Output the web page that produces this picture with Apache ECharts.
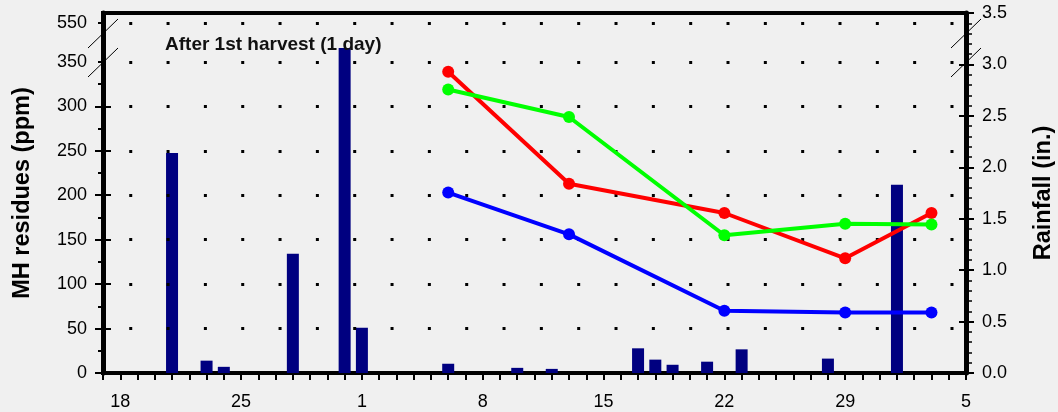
<!DOCTYPE html>
<html>
<head>
<meta charset="utf-8">
<script src="https://cdn.jsdelivr.net/npm/echarts@6/dist/echarts.min.js"></script>
<style>
  html, body { margin: 0; padding: 0; background: #f0f0f0; }
  #chart { width: 1058px; height: 412px; }
</style>
</head>
<body>
<div id="chart"></div>
<script>
// x axis is a running day number, labels are day of month
const xTickValues = [18, 25, 32, 39, 46, 53, 60, 67]
const xTickLabels = ['18', '25', '1', '8', '15', '22', '29', '5']

// rainfall bars (in.)
const rainDays = [21, 23, 24, 28, 31, 32, 37, 41, 43, 48, 49, 50, 52, 54, 59, 63]
const rainInches = [2.14, 0.12, 0.06, 1.16, 3.16, 0.44, 0.09, 0.05, 0.04, 0.24, 0.13, 0.08, 0.11, 0.23, 0.14, 1.83]

// MH residues (ppm)
const sampleDays = [37, 44, 53, 60, 65]
const redResidues = [339, 213, 180, 129, 180]
const greenResidues = [319, 288, 155, 168, 167]
const blueResidues = [203, 156, 70, 68, 68]

// left axis has a break: 550 sits just above 350
const leftTickValues = [0, 50, 100, 150, 200, 250, 300, 350, 394]
const leftTickLabels = ['0', '50', '100', '150', '200', '250', '300', '350', '550']
const leftMinorTicks = [25, 75, 125, 175, 225, 275, 325, 350, 394]

const font = "'Liberation Sans', Arial, sans-serif"

const pairs = (xs, ys) => xs.map((x, i) => [x, ys[i]])

const leftBase = {
  type: 'value', position: 'left', min: 0, max: 405,
  splitLine: { show: false }
}

const lineSeries = (name, color, values) => ({
  name: name,
  type: 'line',
  yAxisIndex: 0,
  data: pairs(sampleDays, values),
  symbol: 'circle',
  symbolSize: 12,
  lineStyle: { color: color, width: 4 },
  itemStyle: { color: color },
  z: 5
})

const chart = echarts.init(document.getElementById('chart'))
chart.setOption({
  backgroundColor: '#f0f0f0',
  animation: false,
  textStyle: { fontFamily: font },
  grid: {
    left: 103, right: 92, top: 13, bottom: 39,
    outerBoundsMode: 'none', containLabel: false,
    show: true, borderColor: '#000', borderWidth: 4, backgroundColor: 'transparent'
  },
  xAxis: {
    type: 'value', min: 17, max: 67, interval: 1,
    axisLine: { lineStyle: { color: '#000', width: 4 } },
    axisTick: { length: 7, lineStyle: { color: '#000', width: 2 } },
    axisLabel: {
      customValues: xTickValues,
      formatter: v => xTickLabels[xTickValues.indexOf(v)],
      color: '#000', fontSize: 18, margin: 20, fontFamily: font
    },
    splitLine: { show: false }
  },
  yAxis: [
    Object.assign({}, leftBase, {
      name: 'MH residues (ppm)',
      nameLocation: 'middle', nameRotate: 90, nameGap: 68,
      nameTextStyle: { color: '#000', fontSize: 23.5, fontWeight: 'bold', fontFamily: font },
      axisLine: { show: true, lineStyle: { color: '#000', width: 5 } },
      axisTick: { show: true, customValues: leftTickValues.slice(0, 7), length: 8, lineStyle: { color: '#000', width: 2 } },
      axisLabel: {
        customValues: leftTickValues,
        formatter: v => leftTickLabels[leftTickValues.indexOf(v)],
        color: '#000', fontSize: 18, margin: 16, fontFamily: font
      }
    }),
    Object.assign({}, leftBase, {
      axisLine: { show: false },
      axisTick: { show: true, inside: true, customValues: leftTickValues.slice(0, 7), length: 8, lineStyle: { color: '#000', width: 2 } },
      axisLabel: { show: false }
    }),
    Object.assign({}, leftBase, {
      axisLine: { show: false },
      axisTick: { show: true, customValues: leftMinorTicks, length: 5, lineStyle: { color: '#000', width: 2 } },
      axisLabel: { show: false }
    }),
    {
      type: 'value', position: 'right', min: 0, max: 3.5, interval: 0.5,
      name: 'Rainfall (in.)',
      nameLocation: 'middle', nameRotate: 90, nameGap: 66,
      nameTextStyle: { color: '#000', fontSize: 23.5, fontWeight: 'bold', fontFamily: font },
      axisLine: { show: true, lineStyle: { color: '#000', width: 5 } },
      axisTick: { show: true, length: 8, lineStyle: { color: '#000', width: 2 } },
      minorTick: { show: true, splitNumber: 5, length: 6, lineStyle: { color: '#000', width: 1.5 } },
      axisLabel: { formatter: v => v.toFixed(1), color: '#000', fontSize: 18, margin: 16, fontFamily: font },
      splitLine: { show: false }
    },
    {
      type: 'value', position: 'right', min: 0, max: 3.5, interval: 0.5,
      axisLine: { show: false },
      axisTick: { show: true, inside: true, length: 7, lineStyle: { color: '#000', width: 2 } },
      axisLabel: { show: false },
      splitLine: { show: false }
    }
  ],
  graphic: [
    { type: 'text', left: 165, top: 35, z: 10,
      style: { text: 'After 1st harvest (1 day)', font: 'bold 19px ' + font, fill: '#111' } },
    // axis break marks
    { type: 'line', shape: { x1: 88, y1: 48, x2: 118, y2: 19 }, style: { stroke: '#000', lineWidth: 1 }, z: 10 },
    { type: 'line', shape: { x1: 88, y1: 77, x2: 118, y2: 48 }, style: { stroke: '#000', lineWidth: 1 }, z: 10 },
    { type: 'line', shape: { x1: 951, y1: 48, x2: 981, y2: 19 }, style: { stroke: '#000', lineWidth: 1 }, z: 10 },
    { type: 'line', shape: { x1: 951, y1: 77, x2: 981, y2: 48 }, style: { stroke: '#000', lineWidth: 1 }, z: 10 }
  ],
  series: [
    {
      name: 'grid dots',
      type: 'line',
      yAxisIndex: 0,
      data: [],
      z: 1,
      markLine: {
        silent: true,
        symbol: 'none',
        label: { show: false },
        lineStyle: { color: '#000', width: 3, type: [3, 34.33], dashOffset: 11.1, opacity: 1 },
        data: leftTickValues.slice(1).map(v => ({ yAxis: v }))
      }
    },
    {
      name: 'Rainfall',
      type: 'bar',
      yAxisIndex: 3,
      barWidth: 12,
      data: pairs(rainDays, rainInches),
      itemStyle: { color: '#000080' },
      z: 3
    },
    lineSeries('Red', '#ff0000', redResidues),
    lineSeries('Green', '#00ff00', greenResidues),
    lineSeries('Blue', '#0000ff', blueResidues)
  ]
})
</script>
</body>
</html>
